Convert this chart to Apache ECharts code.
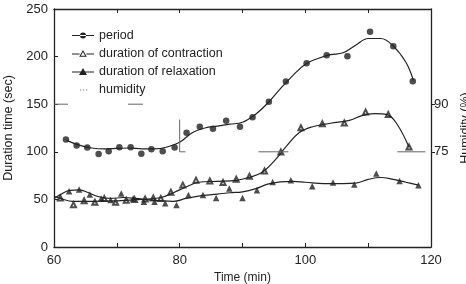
<!DOCTYPE html>
<html><head><meta charset="utf-8">
<script src="https://cdn.jsdelivr.net/npm/echarts@6/dist/echarts.min.js"></script>
<style>html,body{margin:0;padding:0;background:#fff}#c{width:466px;height:284px}</style>
</head><body><div id="c"></div>
<script>
// ---- data ----
var xTicks = [60, 80, 100, 120];
var leftTicks = [0, 50, 100, 150, 200, 250];
var humidityTicks = [75, 90];

var periodPts = [[61.9,113],[63.6,106.5],[65.3,104.4],[67.1,97.7],[68.7,100.5],[70.4,104.7],[72.2,104.7],[73.9,98],[75.5,102.6],[77.3,100.5],[79.2,104.4],[81.1,120],[83.2,126.4],[85.3,124.3],[87.4,132.6],[89.6,126.4],[91.6,136.4],[94.2,152.5],[96.9,173.8],[100.2,193],[103.4,201.4],[106.7,200.3],[110.3,226],[114.0,210.8],[117.1,174]];
var contractionPts = [[61.0,51.6],[63.1,44.5],[64.8,48.5],[66.5,47],[68.0,51],[69.8,47],[71.5,49],[72.8,50],[74.5,50.5],[75.8,51.5],[77.0,51],[78.6,57.5],[80.5,65],[82.6,70.2],[84.8,69.4],[86.9,67.7],[89.0,71.2],[91.1,74.3],[93.5,79.9],[96.1,99.8],[99.3,125.3],[102.7,129.5],[106.2,130.2],[109.6,141.7],[113.2,139.3],[116.5,105]];
var relaxationPts = [[62.4,58.6],[64.0,60.4],[65.7,55.2],[67.5,51],[69.0,49.5],[70.7,56.2],[72.6,51],[74.3,47.5],[76.0,47.5],[77.7,46],[79.5,44],[81.4,54.5],[83.7,54.5],[85.8,51.6],[87.9,61.4],[90.0,51.6],[92.3,59.7],[94.8,68.4],[97.7,70.2],[101.1,63.9],[104.4,67.7],[107.8,65.7],[111.3,77.2],[115.0,69.4],[118.0,64.9]];

// fitted curves as drawn in the picture
var periodCurve = [[62,112],[64,107],[66,104],[68,103],[70,103.5],[72,104],[74,103],[76,103],[78,105],[80,110],[82,120],[84,125],[86,127],[88,129],[90,131],[92,139],[94,151],[96,166],[98,180],[100,192],[102,198],[104,202],[106,204],[108,212],[110,219],[112,219],[114,211],[116,194],[117.2,175]];
var contractionCurve = [[60,53],[61,51],[63,48],[66,48],[70,48.5],[74,50],[77,52],[79,57],[81,63],[83,68],[86,69],[89,70],[91,73],[93,78],[95,90],[97,106],[99,120],[101,126],[104,130],[107,133],[109,138],[111,140],[113,139],[114.5,130],[116.5,105]];
var relaxationCurve = [[60,51],[61,55],[62.5,59.5],[64,60],[65.5,57],[67,53],[69,51],[71,52],[73,51],[75,49.5],[77,48.5],[79,48],[81,51],[83,53.5],[86,55.5],[88,57],[90,58],[92,61],[94,66],[96,68.5],[98,69],[100,68],[103,66.5],[106,66.5],[108,67],[110,71],[112,73],[114,71],[116,68],[118,65]];
var humidity = [[60,90],[80,90],[80,75],[120,75]];

var names = ['period', 'duration of contraction', 'duration of relaxation', 'humidity'];

var ink = '#222';
var font = 'Liberation Sans, Arial, sans-serif';
var box = ' M0,0h0.01v0.01h-0.01z M21.99,9.99h0.01v0.01h-0.01z';
var icons = [
  'path://M0,4.5h22v1.1h-22z M8,5 a3,3 0 1,0 6,0 a3,3 0 1,0 -6,0 z' + box,
  'path://M0,5h7.6v1h-7.6z M14.4,5h7.6v1h-7.6z M11,1.5 L14.8,8.3 L7.2,8.3 Z M11,3.5 L8.9,7.3 L13.1,7.3 Z' + box,
  'path://M0,5h22v1.1h-22z M11,1.5 L15,8.5 L7,8.5 Z' + box,
  'path://M8,5h1.2v1h-1.2z M11,5h1.2v1h-1.2z M14,5h1.2v1h-1.2z' + box
];
var chart = echarts.init(document.getElementById('c'));
chart.setOption({
  animation: false,
  backgroundColor: '#fff',
  textStyle: { fontFamily: font, color: ink },
  grid: { left: 54, right: 35, top: 9, bottom: 37, outerBoundsMode: 'none', containLabel: false },
  legend: {
    data: names.map(function (n, i) { return { name: n, icon: icons[i], itemStyle: { color: i === 3 ? '#777' : ink, borderWidth: 0 } }; }),
    orient: 'vertical', left: 67, top: 24, itemGap: 5,
    itemWidth: 22, itemHeight: 10,
    textStyle: { fontSize: 12.5, color: ink, fontFamily: font }
  },
  xAxis: [{
    type: 'value', min: 60, max: 120, interval: 10,
    name: 'Time (min)', nameLocation: 'middle', nameGap: 21,
    nameTextStyle: { fontSize: 12, color: ink },
    axisLine: { lineStyle: { color: ink, width: 1.3 } },
    axisTick: { inside: true, length: 4, lineStyle: { color: ink } },
    axisLabel: { fontSize: 13, color: ink, margin: 7, customValues: xTicks },
    splitLine: { show: false }
  }, {
    type: 'value', min: 60, max: 120, interval: 10, position: 'top',
    axisLine: { lineStyle: { color: ink, width: 1.3 } },
    axisTick: { inside: true, length: 4, lineStyle: { color: ink } },
    axisLabel: { show: false }, splitLine: { show: false }
  }],
  yAxis: [{
    type: 'value', min: 0, max: 250, interval: 50,
    name: 'Duration time (sec)', nameLocation: 'middle', nameGap: 38,
    nameTextStyle: { fontSize: 12.5, color: ink },
    axisLine: { show: true, lineStyle: { color: ink, width: 1.3 } },
    axisTick: { show: true, inside: true, length: 4, lineStyle: { color: ink } },
    axisLabel: { fontSize: 13, color: ink, margin: 6, customValues: leftTicks },
    splitLine: { show: false }
  }, {
    type: 'value', min: 45, max: 120, position: 'right',
    name: 'Humidity (%)', nameLocation: 'middle', nameGap: 22, nameRotate: 90,
    nameTextStyle: { fontSize: 12.5, color: ink },
    axisLine: { show: true, lineStyle: { color: ink, width: 1.3 } },
    axisTick: { show: true, length: 4, customValues: humidityTicks, lineStyle: { color: ink } },
    axisLabel: { fontSize: 13, color: ink, margin: 3, customValues: humidityTicks },
    splitLine: { show: false }
  }],
  series: [
    { name: names[0], type: 'line', data: periodCurve, smooth: 0.4, symbol: 'none',
      itemStyle: { color: ink }, lineStyle: { color: ink, width: 1.2 } },
    { name: names[1], type: 'line', data: contractionCurve, smooth: 0.4, symbol: 'none',
      itemStyle: { color: ink }, lineStyle: { color: ink, width: 1.2 } },
    { name: names[2], type: 'line', data: relaxationCurve, smooth: 0.4, symbol: 'none',
      itemStyle: { color: ink }, lineStyle: { color: ink, width: 1.2 } },
    { name: names[3], type: 'line', yAxisIndex: 1, data: humidity, symbol: 'none',
      itemStyle: { color: '#666' }, lineStyle: { color: '#666', width: 1, type: [14, 60, 15, 52, 38, 73, 30, 109, 28, 100] } },
    { name: 'period-pts', type: 'scatter', data: periodPts, symbol: 'circle', symbolSize: 6.5, itemStyle: { color: ink } },
    { name: 'contraction-pts', type: 'scatter', data: contractionPts, symbol: 'emptyTriangle', symbolSize: 5,
      itemStyle: { color: ink, borderColor: ink, borderWidth: 0.8 } },
    { name: 'relaxation-pts', type: 'scatter', data: relaxationPts, symbol: 'triangle', symbolSize: 6.5, itemStyle: { color: ink } }
  ]
});
</script></body></html>
